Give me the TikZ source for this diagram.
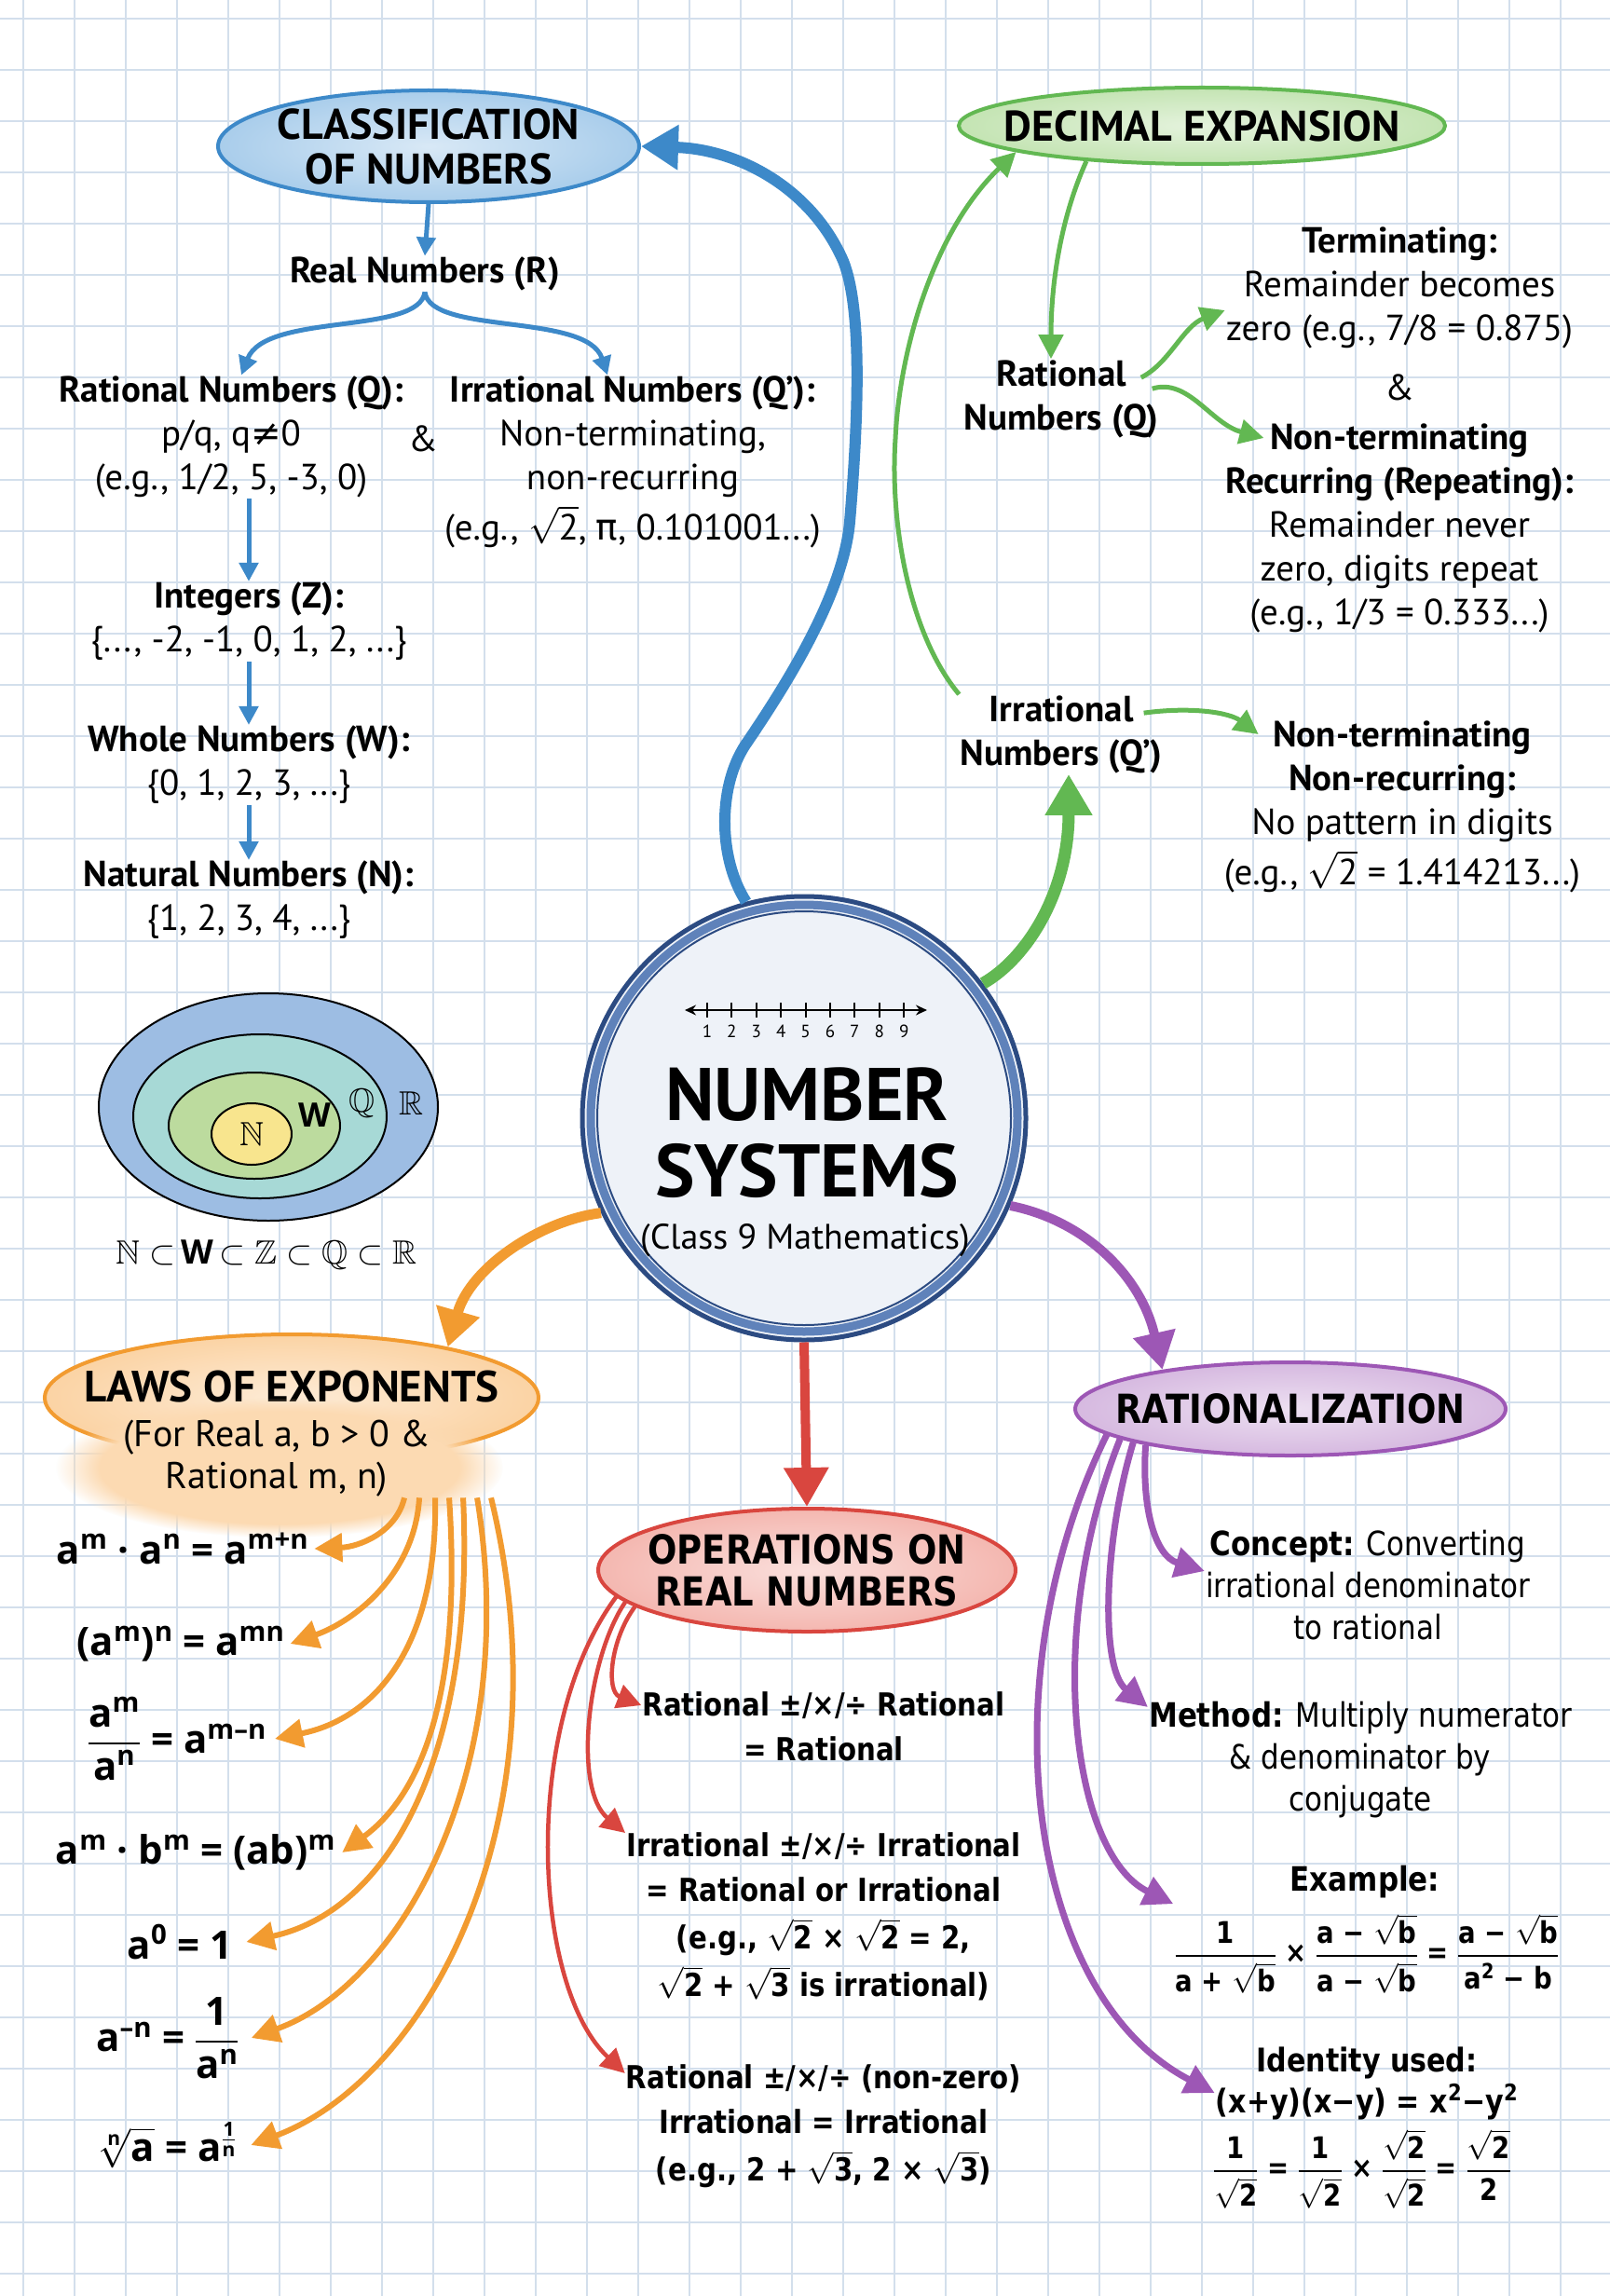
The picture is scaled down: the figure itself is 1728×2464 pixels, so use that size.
\RequirePackage{fix-cm}
\documentclass[tikz,border=0pt]{standalone}
\usepackage{amsmath,amssymb}
\usepackage{fontspec}
\setmainfont{PT Sans}
\newfontfamily\dv[FakeStretch=0.86]{DejaVu Sans}
\newfontfamily\os{Open Sans}
\newfontfamily\djs{DejaVu Sans}
\DeclareFontFamily{U}{msb}{}
\DeclareFontShape{U}{msb}{m}{n}{<-> msbm10}{}
\usetikzlibrary{arrows.meta,shapes.geometric,fadings}
\newcommand\fr[2]{\genfrac{}{}{2.2pt}{0}{#1}{#2}}
\newcommand\sfr[2]{\genfrac{}{}{1.4pt}{2}{#1}{#2}}
\newcommand\rt[1]{\sqrt{\text{#1}}}
\definecolor{gridc}{HTML}{D3DFEC}
\definecolor{bl}{HTML}{3D89C9}
\definecolor{blfill}{HTML}{A9CDEB}
\definecolor{gr}{HTML}{62B852}
\definecolor{grfill}{HTML}{C4E4B3}
\definecolor{orng}{HTML}{F29B30}
\definecolor{orfill}{HTML}{FBD3A4}
\definecolor{rd}{HTML}{D9463F}
\definecolor{rdfill}{HTML}{F4B7B0}
\definecolor{pu}{HTML}{9D57B5}
\definecolor{pufill}{HTML}{D6B9E0}
\definecolor{navy}{HTML}{2C4B82}
\definecolor{band}{HTML}{5F82BA}
\definecolor{cfill}{HTML}{EEF2F8}
\definecolor{vR}{HTML}{9DBDE3}
\definecolor{vQ}{HTML}{A7D9D6}
\definecolor{vW}{HTML}{BCDB9E}
\definecolor{vN}{HTML}{F8E58E}
\tikzset{
  ell/.style={ellipse, line width=4pt, inner sep=0pt},
  ttlc/.style={font=\bfseries\fontsize{46}{48}\selectfont, align=center},
  dvt/.style={font=\dv\bfseries\fontsize{43}{45}\selectfont, align=center},
  tr/.style={font=\fontsize{39}{47}\selectfont, align=center, inner sep=1pt},
  tb/.style={font=\bfseries\fontsize{39}{47}\selectfont, align=center, inner sep=1pt},
  dvb/.style={font=\dv\bfseries\fontsize{34}{48}\selectfont, align=center, inner sep=1pt},
  dvr/.style={font=\dv\fontsize{36}{45}\selectfont, align=center, inner sep=1pt},
  osb/.style={font=\os\bfseries\fontsize{42}{48}\selectfont, align=center, inner sep=1pt},
  venn/.style={ellipse, draw=black, line width=2pt, inner sep=0pt},
  ba/.style={bl, line width=5pt, -{Triangle[length=20pt,width=20pt]}},
  ga/.style={gr, line width=5pt, -{Triangle[length=26pt,width=26pt]}},
  oa/.style={orng, line width=6pt, -{Triangle[length=30pt,width=30pt]}},
  ra/.style={rd, line width=4.5pt, -{Triangle[length=26pt,width=26pt]}},
  pa/.style={pu, line width=7pt, -{Triangle[length=32pt,width=32pt]}},
}
\begin{document}
\begin{tikzpicture}[x=1pt,y=-1pt]
\useasboundingbox (0,0) rectangle (1728,2464);
\fill[white] (0,0) rectangle (1728,2464);
\foreach \i in {0,...,31} {\draw[gridc,line width=1.5pt] (25+\i*55,0) -- (25+\i*55,2464);}
\foreach \j in {0,...,44} {\draw[gridc,line width=1.5pt] (0,20+\j*55) -- (1728,20+\j*55);}

% ---------- centre ----------
\node[circle, draw=navy, line width=5pt, fill=cfill, minimum size=476pt] (ns) at (863,1200) {};
\draw[band, line width=9pt] (ns.center) circle (229pt);
\draw[navy, line width=2pt] (ns.center) circle (222pt);
\draw[line width=2.5pt, {Stealth[length=12pt,width=11pt]}-{Stealth[length=12pt,width=11pt]}] (735,1084) -- (995,1084);
\foreach \k in {1,...,9} {
  \draw[line width=2pt] (732.6+\k*26.4,1076) -- (732.6+\k*26.4,1092);
  \node[font=\fontsize{19}{20}\selectfont] (nl\k) at (732.6+\k*26.4,1107) {\k};
}
\node[font=\bfseries\fontsize{80}{84}\selectfont] (t1) at (866,1175) {NUMBER};
\node[font=\bfseries\fontsize{80}{84}\selectfont] (t2) at (866,1256) {SYSTEMS};
\node[font=\fontsize{38}{40}\selectfont] (t3) at (864,1331) {(Class 9 Mathematics)};

% ---------- classification ----------
\node[ell, draw=bl, inner color=blfill!45!white, outer color=blfill, minimum width=452pt, minimum height=120pt,
  label={[ttlc]center:{CLASSIFICATION\\OF NUMBERS}}] (class) at (460,157) {};
\node[tb] (real) at (456,294) {Real Numbers (R)};
\node[tr] (rat) at (248,469) {\textbf{Rational Numbers (Q):}\\p/q, q{\djs ≠}0\\(e.g., 1/2, 5, -3, 0)};
\node[tr] (amp1) at (454,471) {\&};
\node[tr] (irr) at (679,496) {\textbf{Irrational Numbers (Q’):}\\Non-terminating,\\non-recurring\\[7pt](e.g., \(\rt{2}\), {\djs π}, 0.101001...)};
\node[tr] (int) at (267,667) {\textbf{Integers (Z):}\\\{..., -2, -1, 0, 1, 2, ...\}};
\node[tr] (whole) at (267,821) {\textbf{Whole Numbers (W):}\\\{0, 1, 2, 3, ...\}};
\node[tr] (nat) at (267,966) {\textbf{Natural Numbers (N):}\\\{1, 2, 3, 4, ...\}};
\draw[ba] (class.south) -- (real.north);
\draw[ba] (real.south) .. controls (450,360) and (285,335) .. ([xshift=11pt]rat.north);
\draw[ba] (real.south) .. controls (462,360) and (630,335) .. ([xshift=-27pt]irr.north);
\draw[ba] ([xshift=19pt]rat.south) -- (int.north);
\draw[ba] (int.south) -- (whole.north);
\draw[ba] (whole.south) -- (nat.north);
\draw[bl, line width=12pt, -{Triangle[length=40pt,width=46pt]}] (ns.105) .. controls (770,920) and (770,840) .. (803,795) .. controls (840,740) and (905,640) .. (912,560) .. controls (922,440) and (925,330) .. (905,280) .. controls (870,200) and (790,160) .. (class.east);

% ---------- venn ----------
\node[venn, fill=vR, minimum width=364pt, minimum height=244pt] (vr) at (288,1188) {};
\node[venn, fill=vQ, minimum width=272pt, minimum height=176pt] (vq) at (279,1198) {};
\node[venn, fill=vW, minimum width=184pt, minimum height=114pt] (vw) at (273,1208) {};
\node[venn, fill=vN, minimum width=86pt, minimum height=66pt, font=\fontsize{36}{40}\selectfont] (vn) at (270,1217) {$\mathbb{N}$};
\node[font=\os\bfseries\fontsize{36}{40}\selectfont] (lw) at (338,1197) {W};
\node[font=\fontsize{36}{40}\selectfont] (lq) at (388,1184) {$\mathbb{Q}$};
\node[font=\fontsize{36}{40}\selectfont] (lr) at (441,1184) {$\mathbb{R}$};
\node[font=\fontsize{36}{40}\selectfont] (sub) at (286,1347) {$\mathbb{N}\subset$\,{\os\bfseries W}\,$\subset\mathbb{Z}\subset\mathbb{Q}\subset\mathbb{R}$};

% ---------- decimal expansion ----------
\node[ell, draw=gr, inner color=grfill!45!white, outer color=grfill, minimum width=522pt, minimum height=82pt,
  label={[ttlc]center:DECIMAL EXPANSION}] (dec) at (1290,135) {};
\node[tb] (rat2) at (1139,428) {Rational\\Numbers (Q)};
\node[tr] (term) at (1502,309) {\textbf{Terminating:}\\Remainder becomes\\zero (e.g., 7/8 = 0.875)};
\node[tr] (amp2) at (1502,416) {\&};
\node[tr] (rec) at (1502,567) {\textbf{Non-terminating}\\\textbf{Recurring (Repeating):}\\Remainder never\\zero, digits repeat\\(e.g., 1/3 = 0.333...)};
\node[tb] (irr2) at (1139,788) {Irrational\\Numbers (Q’)};
\node[tr] (nr) at (1505,866) {\textbf{Non-terminating}\\\textbf{Non-recurring:}\\No pattern in digits\\[7pt](e.g., \(\rt{2}\) = 1.414213...)};
\draw[gr, line width=13pt, -{Triangle[length=44pt,width=48pt]}] (ns.37) .. controls (1100,1030) and (1147,960) .. ([xshift=8pt]irr2.south);
\draw[ga] (irr2.north west) .. controls (975,680) and (955,560) .. (961,471) .. controls (965,380) and (1000,250) .. (dec.188);
\draw[ga] (dec.197) .. controls (1140,230) and (1128,300) .. ([xshift=-11pt]rat2.north);
\draw[ga] ([xshift=-20pt,yshift=-20pt]rat2.north east) .. controls (1255,390) and (1270,350) .. ([yshift=-24pt]term.west);
\draw[ga] ([xshift=-8pt,yshift=-32pt]rat2.north east) .. controls (1275,405) and (1300,455) .. ([xshift=42pt,yshift=97pt]rec.west);
\draw[ga] ([xshift=-21pt,yshift=-20pt]irr2.north east) .. controls (1280,758) and (1320,765) .. ([xshift=38pt,yshift=78pt]nr.west);

% ---------- laws of exponents ----------
\node[ell, draw=orng, inner color=orfill!45!white, outer color=orfill, minimum width=530pt, minimum height=136pt,
  label={[font=\bfseries\fontsize{47}{48}\selectfont, yshift=12pt]center:LAWS OF EXPONENTS}] (laws) at (313,1500) {};
\fill[orfill!85!white, path fading=circle with fuzzy edge 20 percent] (300,1575) ellipse (240pt and 75pt);
\node[tr, font=\fontsize{40}{45}\selectfont] (lawsub) at (297,1565) {(For Real a, b > 0 \&\\Rational m, n)};
\node[osb] (f1) at (196,1662) {a\textsuperscript{m} · a\textsuperscript{n} = a\textsuperscript{m+n}};
\node[osb] (f2) at (194,1764) {(a\textsuperscript{m})\textsuperscript{n} = a\textsuperscript{mn}};
\node[osb] (f3) at (190,1866) {\(\fr{\text{a\textsuperscript{m}}}{\text{a\textsuperscript{n}}}\) = a\textsuperscript{m–n}};
\node[osb] (f4) at (210,1988) {a\textsuperscript{m} · b\textsuperscript{m} = (ab)\textsuperscript{m}};
\node[osb] (f5) at (193,2084) {a\textsuperscript{0} = 1};
\node[osb] (f6) at (180,2187) {a\textsuperscript{–n} = \(\fr{\text{1}}{\text{a\textsuperscript{n}}}\)};
\node[osb] (f7) at (179,2302) {\(\sqrt[\text{n}]{\text{a}}\) = a\(^{\sfr{\text{1}}{\text{n}}}\)};
\draw[orng, line width=11pt, -{Triangle[length=40pt,width=46pt]}] (ns.205) .. controls (580,1310) and (505,1360) .. (laws.18);
\draw[oa] ([xshift=-29pt]lawsub.south east) .. controls (425,1645) and (385,1660) .. ([xshift=5pt]f1.east);
\draw[oa] ([xshift=-13pt]lawsub.south east) .. controls (445,1690) and (380,1740) .. ([xshift=5pt]f2.east);
\draw[oa] ([xshift=4pt]lawsub.south east) .. controls (470,1770) and (400,1845) .. ([xshift=8pt]f3.east);
\draw[oa] ([xshift=19pt]lawsub.south east) .. controls (495,1800) and (460,1920) .. ([xshift=6pt]f4.east);
\draw[oa] ([xshift=34pt]lawsub.south east) .. controls (510,1880) and (420,2050) .. ([xshift=14pt]f5.east);
\draw[oa] ([xshift=49pt]lawsub.south east) .. controls (560,1900) and (430,2130) .. ([xshift=12pt]f6.east);
\draw[oa] ([xshift=64pt]lawsub.south east) .. controls (610,1950) and (460,2230) .. ([xshift=14pt]f7.east);

% ---------- operations ----------
\node[ell, draw=rd, inner color=rdfill!45!white, outer color=rdfill, minimum width=448pt, minimum height=132pt,
  label={[dvt]center:{OPERATIONS ON\\REAL NUMBERS}}] (ops) at (866,1685) {};
\node[dvb] (opsA) at (884,1853) {Rational ±/×/÷ Rational\\= Rational};
\node[dvb] (opsB) at (884,2057) {Irrational ±/×/÷ Irrational\\= Rational or Irrational\\[3pt](e.g., \(\rt{2}\) × \(\rt{2}\) = 2,\\[3pt]\(\rt{2}\) + \(\rt{3}\) is irrational)};
\node[dvb] (opsC) at (884,2282) {Rational ±/×/÷ (non-zero)\\Irrational = Irrational\\[3pt](e.g., 2 + \(\rt{3}\), 2 × \(\rt{3}\))};
\draw[rd, line width=10pt, -{Triangle[length=42pt,width=46pt]}] (ns.south) -- (ops.north);
\draw[ra] (ops.192) .. controls (655,1760) and (650,1815) .. ([yshift=23pt]opsA.west);
\draw[ra] (ops.190) .. controls (630,1780) and (615,1920) .. ([yshift=90pt]opsB.west);
\draw[ra] (ops.188) .. controls (560,1850) and (570,2130) .. ([yshift=57pt]opsC.west);

% ---------- rationalization ----------
\node[ell, draw=pu, inner color=pufill!45!white, outer color=pufill, minimum width=462pt, minimum height=100pt,
  label={[dvt]center:RATIONALIZATION}] (ratz) at (1385,1512) {};
\node[dvr] (concept) at (1468,1701) {\textbf{Concept:} Converting\\irrational denominator\\to rational};
\node[dvr] (method) at (1460,1889) {\textbf{Method:} Multiply numerator\\\& denominator by\\conjugate};
\node[dvb, font=\dv\bfseries\fontsize{36}{45}\selectfont] (exh) at (1465,2020) {Example:};
\node[dvb, font=\dv\bfseries\fontsize{32}{45}\selectfont] (exf) at (1467,2097) {\(\fr{\text{1}}{\text{a + }\rt{b}}\text{ × }\fr{\text{a − }\rt{b}}{\text{a − }\rt{b}}\text{ = }\fr{\text{a − }\rt{b}}{\text{a\textsuperscript{2} − b}}\)};
\node[dvb, font=\dv\bfseries\fontsize{35}{44}\selectfont] (idn) at (1467,2236) {Identity used:\\(x+y)(x−y) = x\textsuperscript{2}−y\textsuperscript{2}};
\node[dvb, font=\dv\bfseries\fontsize{32}{45}\selectfont] (idf2) at (1462,2328) {\(\fr{\text{1}}{\rt{2}}\text{ = }\fr{\text{1}}{\rt{2}}\text{ × }\fr{\rt{2}}{\rt{2}}\text{ = }\fr{\rt{2}}{\text{2}}\)};
\draw[pu, line width=10pt, -{Triangle[length=40pt,width=44pt]}] (ns.337) .. controls (1165,1310) and (1225,1370) .. (ratz.163);
\draw[pa] (ratz.194) .. controls (1225,1620) and (1240,1670) .. ([yshift=15pt]concept.west);
\draw[pa] (ratz.192) .. controls (1185,1650) and (1180,1790) .. ([yshift=57pt]method.west);
\draw[pa] (ratz.190) .. controls (1120,1750) and (1150,1990) .. ([yshift=10pt]exf.north west);
\draw[pa] (ratz.188) .. controls (1060,1800) and (1100,2140) .. ([yshift=-10pt]idn.west);
\end{tikzpicture}
\end{document}
